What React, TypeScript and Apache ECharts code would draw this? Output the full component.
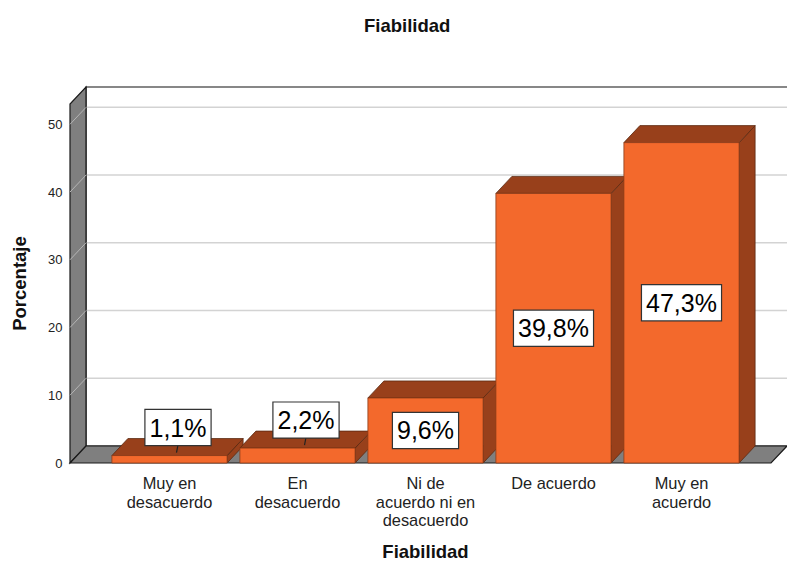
import React, { useEffect, useRef } from 'react';
import * as echarts from 'echarts';

const categories = [
  'Muy en\ndesacuerdo',
  'En\ndesacuerdo',
  'Ni de\nacuerdo ni en\ndesacuerdo',
  'De acuerdo',
  'Muy en\nacuerdo',
];
const percentages = [1.1, 2.2, 9.6, 39.8, 47.3];
const labelTexts = ['1,1%', '2,2%', '9,6%', '39,8%', '47,3%'];
const yTicks = [0, 10, 20, 30, 40, 50];
const yMax = 53;

const DX = 16;
const DY = -17;
const FRONT = '#F3692C';
const DARK = '#98401B';
const EDGE = '#5a2a12';
const WALL = '#7f7f7f';
const FONT = '"Liberation Sans", Arial, sans-serif';

export default function App() {
  const ref = useRef<HTMLDivElement>(null);

  useEffect(() => {
    const chart = echarts.init(ref.current!, null, { renderer: 'svg' });

    const wallsRender = (params: any, api: any) => {
      const cs = params.coordSys;
      const W = api.getWidth();
      const x0 = cs.x;
      const x1 = cs.x + cs.width;
      const yb = api.coord([0, 0])[1];
      const yt = api.coord([0, yMax])[1];
      const lx = x0 - 35.5;
      const rx = x1 + 25.5;
      const children: any[] = [];
      children.push({
        type: 'rect',
        shape: { x: lx + DX, y: yt + DY, width: W - (lx + DX) + 5, height: yb - yt },
        style: { fill: '#ffffff', stroke: '#111', lineWidth: 1.2 },
      });
      yTicks.forEach((v) => {
        if (v === 0) return;
        const y = api.coord([0, v])[1];
        children.push({
          type: 'line',
          shape: { x1: lx + DX, y1: y + DY, x2: W, y2: y + DY },
          style: { stroke: '#d3d3d3', lineWidth: 1.5 },
        });
      });
      children.push({
        type: 'polygon',
        shape: { points: [[lx, yb], [lx, yt], [lx + DX, yt + DY], [lx + DX, yb + DY]] },
        style: { fill: WALL, stroke: '#1a1a1a', lineWidth: 1.2 },
      });
      yTicks.forEach((v) => {
        if (v === 0) return;
        const y = api.coord([0, v])[1];
        children.push({
          type: 'line',
          shape: { x1: lx, y1: y, x2: lx + DX, y2: y + DY },
          style: { stroke: '#b5b5b5', lineWidth: 1 },
        });
      });
      children.push({
        type: 'polygon',
        shape: { points: [[lx, yb], [rx, yb], [rx + DX, yb + DY], [lx + DX, yb + DY]] },
        style: { fill: WALL, stroke: '#1a1a1a', lineWidth: 1.2 },
      });
      return { type: 'group', children };
    };

    const barRender = (params: any, api: any) => {
      const idx = api.value(0);
      const v = api.value(1);
      const [cx, ytop] = api.coord([idx, v]);
      const yb = api.coord([idx, 0])[1];
      const w = api.size([1, 0])[0] * 0.9;
      const xl = cx - w / 2;
      const xr = cx + w / 2;
      return {
        type: 'group',
        children: [
          {
            type: 'polygon',
            shape: { points: [[xr, ytop], [xr + DX, ytop + DY], [xr + DX, yb + DY], [xr, yb]] },
            style: { fill: DARK, stroke: EDGE, lineWidth: 0.8 },
          },
          {
            type: 'polygon',
            shape: { points: [[xl, ytop], [xr, ytop], [xr + DX, ytop + DY], [xl + DX, ytop + DY]] },
            style: { fill: DARK, stroke: EDGE, lineWidth: 0.8 },
          },
          {
            type: 'rect',
            shape: { x: xl, y: ytop, width: w, height: yb - ytop },
            style: { fill: FRONT, stroke: '#8a3a16', lineWidth: 0.8 },
          },
        ],
      };
    };

    const labelRender = (params: any, api: any) => {
      const idx = api.value(0);
      const v = api.value(1);
      const [cx, ytop] = api.coord([idx, v]);
      const yb = api.coord([idx, 0])[1];
      const inside = yb - ytop > 50;
      const tx = inside ? cx : cx + 8.5;
      const ty = inside ? (ytop + yb) / 2 : ytop - 28;
      const children: any[] = [];
      if (!inside) {
        children.push({
          type: 'line',
          shape: { x1: tx, y1: ty + 17, x2: tx - 1.5, y2: ty + 25 },
          style: { stroke: '#222', lineWidth: 1.2 },
        });
      }
      children.push({
        type: 'text',
        style: {
          text: labelTexts[params.dataIndex],
          x: tx,
          y: ty,
          align: 'center',
          verticalAlign: 'middle',
          font: `25px ${FONT}`,
          fill: '#000',
          backgroundColor: '#ffffff',
          borderColor: '#333',
          borderWidth: 1.2,
          padding: [3, 4, 3, 4],
          lineHeight: 29,
        },
      });
      return { type: 'group', children };
    };

    const barData = percentages.map((p, i) => [i, p]);

    chart.setOption({
      animation: false,
      title: {
        text: 'Fiabilidad',
        left: 359,
        top: 11,
        textStyle: { fontFamily: FONT, fontSize: 18.5, fontWeight: 'bold', color: '#111' },
      },
      grid: { left: 105.5, top: 104, width: 640, height: 359, outerBoundsMode: 'none', containLabel: false },
      xAxis: {
        type: 'category',
        data: categories,
        axisLine: { show: false },
        axisTick: { show: false },
        axisLabel: {
          interval: 0,
          margin: 11,
          fontFamily: FONT,
          fontSize: 16.4,
          lineHeight: 18.4,
          color: '#222',
        },
        name: 'Fiabilidad',
        nameLocation: 'middle',
        nameGap: 79,
        nameTextStyle: { fontFamily: FONT, fontSize: 18.5, fontWeight: 'bold', color: '#111' },
      },
      yAxis: {
        type: 'value',
        min: 0,
        max: yMax,
        interval: 10,
        axisLine: { show: false },
        axisTick: { show: false },
        splitLine: { show: false },
        axisLabel: {
          margin: 43,
          fontFamily: FONT,
          fontSize: 13,
          color: '#222',
          padding: [4, 0, 0, 0],
          showMaxLabel: false,
          formatter: (v: number) => (yTicks.includes(v) ? String(v) : ''),
        },
        name: 'Porcentaje',
        nameLocation: 'middle',
        nameGap: 77,
        nameRotate: 90,
        nameTextStyle: { fontFamily: FONT, fontSize: 18.5, fontWeight: 'bold', color: '#111' },
      },
      series: [
        {
          type: 'custom',
          renderItem: wallsRender,
          data: [[0, 0]],
          z: 1,
          silent: true,
        },
        {
          type: 'custom',
          renderItem: barRender,
          data: barData,
          encode: { x: 0, y: 1 },
          z: 2,
        },
        {
          type: 'custom',
          renderItem: labelRender,
          data: barData,
          encode: { x: 0, y: 1 },
          z: 3,
        },
      ],
    });

    return () => chart.dispose();
  }, []);

  return (
    <div
      ref={ref}
      style={{ position: 'fixed', left: 0, top: 0, width: 787, height: 563, background: '#fff' }}
    />
  );
}
